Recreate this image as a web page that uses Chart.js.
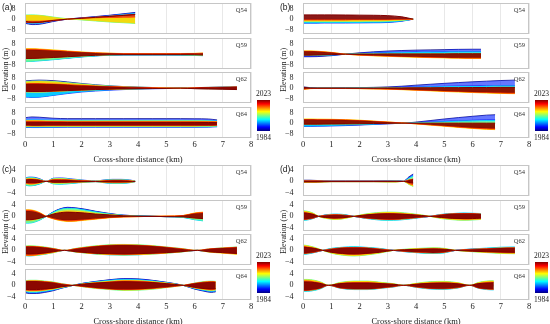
<!DOCTYPE html>
<html>
<head>
<meta charset="utf-8">
<script src="https://cdn.jsdelivr.net/npm/chart.js@4.4.0/dist/chart.umd.min.js"></script>
<style>
  body { margin: 0; background: #fff; width: 550px; height: 324px; position: relative; overflow: hidden; font-family: "Liberation Serif", serif; color: #222; }
  canvas { position: absolute; }
  .txt { position: absolute; white-space: nowrap; line-height: 10px; }
  .bar { position: absolute; background: linear-gradient(to top, rgb(0,0,128) 0%, rgb(0,0,255) 12.5%, rgb(0,255,255) 37.5%, rgb(255,255,0) 62.5%, rgb(255,0,0) 87.5%, rgb(128,0,0) 100%); }
</style>
</head>
<body>
<script>
// years shown as profile lines (colour = year on the jet scale 1984-2023)
const years = [1984, 1990, 1997, 2003, 2010, 2016, 2023];
const profiles = ["Q54", "Q59", "Q62", "Q64"];
const xTicks = [0, 1, 2, 3, 4, 5, 6, 7, 8];
const ticksAB = [-8, 0, 8];
const ticksCD = [-4, 0, 4];

// cross-shore distance (km) of the sampled points
const distQ54 = [0, 0.25, 0.5, 0.75, 1, 1.5, 2, 2.5, 3, 3.5, 3.9];
const distQ59 = [0, 0.25, 0.5, 1, 1.5, 2, 2.5, 3, 3.5, 4, 4.5, 5, 5.5, 6, 6.3];
const distQ62 = [0, 0.25, 0.5, 1, 1.5, 2, 2.5, 3, 3.5, 4, 4.5, 5, 5.5, 6, 6.5, 7, 7.5];
const distQ64 = [0, 0.25, 0.5, 1, 1.5, 2, 2.5, 3, 3.5, 4, 4.5, 5, 5.5, 6, 6.5, 6.8];
const distC54 = [0, 0.15, 0.35, 0.55, 0.75, 1.0, 1.3, 1.6, 1.9, 2.2, 2.5, 2.8, 3.1, 3.4, 3.7, 3.9];
const distC59 = [0, 0.15, 0.35, 0.55, 0.75, 1.0, 1.25, 1.5, 1.8, 2.1, 2.5, 3.0, 3.5, 4.0, 5.0, 5.6, 6.0, 6.3];
const distC62 = [0, 0.15, 0.4, 0.7, 1.0, 1.4, 1.8, 2.2, 2.6, 3.0, 3.5, 4.0, 4.5, 5.0, 5.5, 6.1, 6.5, 7.0, 7.5];
const distC64 = [0, 0.15, 0.4, 0.7, 1.0, 1.3, 1.7, 2.1, 2.5, 3.0, 3.5, 4.0, 4.5, 5.0, 5.6, 6.0, 6.3, 6.6, 6.75];
const distD54 = [0, 0.25, 0.5, 1.0, 1.5, 2.0, 2.5, 3.0, 3.3, 3.55, 3.75, 3.9];
const distD59 = [0, 0.15, 0.35, 0.55, 0.8, 1.1, 1.4, 1.8, 2.2, 2.6, 3.0, 3.4, 3.8, 4.2, 4.5, 4.9, 5.3, 5.7, 6.0, 6.3];
const distD62 = [0, 0.15, 0.4, 0.7, 1.0, 1.4, 1.8, 2.2, 2.7, 3.2, 3.6, 4.1, 4.6, 5.0, 5.4, 6.0, 6.5, 7.0, 7.5];
const distD64 = [0, 0.15, 0.4, 0.65, 0.9, 1.3, 1.8, 2.3, 2.8, 3.2, 3.55, 4.0, 4.5, 5.0, 5.5, 5.9, 6.2, 6.5, 6.75];

// elevation (m), one row per year
const elevA54 = [
  [-3.2, -4.2, -4.0, -3.0, -1.8, 0, 1.0, 2.0, 3.0, 4.2, 5.2],
  [-2.8, -3.6, -3.5, -2.6, -1.5, 0, 0.9, 1.8, 2.8, 3.9, 4.8],
  [-1.2, -1.5, -1.4, -1.0, -0.6, 0, 0.4, 0.8, 1.2, 1.6, 2.0],
  [3.2, 3.3, 3.0, 2.4, 1.6, 0.3, -0.6, -1.4, -2.2, -2.8, -3.3],
  [-1.2, -1.3, -1.2, -0.9, -0.5, 0, 0.4, 0.7, 0.9, 1.1, 1.3],
  [-2.2, -2.8, -2.6, -2.0, -1.2, 0, 0.8, 1.5, 2.3, 3.1, 3.8],
  [-1.8, -2.4, -2.3, -1.7, -1.0, 0, 0.7, 1.4, 2.1, 2.9, 3.5],
];
const elevA59 = [
  [-5.0, -5.0, -4.8, -4.0, -3.0, -2.0, -1.2, -0.7, -0.5, -0.5, -0.5, -0.5, -0.6, -0.8, -1.0],
  [-4.8, -4.8, -4.6, -3.8, -2.9, -1.9, -1.2, -0.7, -0.5, -0.5, -0.5, -0.5, -0.6, -0.8, -1.0],
  [-5.8, -5.6, -5.2, -4.3, -3.2, -2.2, -1.4, -0.8, -0.6, -0.6, -0.6, -0.6, -0.7, -1.0, -1.2],
  [-3.8, -3.8, -3.6, -3.0, -2.3, -1.6, -1.0, -0.6, -0.4, -0.4, -0.4, -0.4, -0.5, -0.7, -0.9],
  [4.2, 4.2, 4.0, 3.3, 2.5, 1.7, 1.1, 0.7, 0.5, 0.4, 0.4, 0.4, 0.5, 0.6, 0.8],
  [3.4, 3.4, 3.2, 2.7, 2.1, 1.4, 0.9, 0.6, 0.4, 0.4, 0.4, 0.4, 0.4, 0.5, 0.7],
  [-3.3, -3.3, -3.1, -2.6, -2.0, -1.4, -0.9, -0.5, -0.4, -0.4, -0.4, -0.4, -0.4, -0.5, -0.7],
];
const elevA62 = [
  [5.6, 6.0, 6.2, 5.8, 4.8, 3.6, 2.6, 1.8, 1.2, 0.8, 0.5, 0.3, 0, 0.3, 0.5, 0.7, 0.9],
  [-6.8, -7.2, -7.0, -5.6, -4.2, -3.0, -2.2, -1.6, -1.1, -0.8, -0.5, -0.3, 0, -0.3, -0.5, -0.7, -0.9],
  [-3.0, -3.2, -3.2, -2.7, -2.2, -1.7, -1.3, -1.0, -0.7, -0.5, -0.3, -0.2, 0, 0.4, 0.6, 0.9, 1.1],
  [5.0, 5.4, 5.5, 5.1, 4.2, 3.2, 2.3, 1.6, 1.1, 0.7, 0.5, 0.3, 0, 0.2, 0.3, 0.4, 0.5],
  [-2.8, -3.0, -3.0, -2.6, -2.1, -1.6, -1.2, -0.9, -0.7, -0.5, -0.3, -0.2, 0, -0.3, -0.5, -0.6, -0.8],
  [3.3, 3.5, 3.5, 3.2, 2.7, 2.1, 1.6, 1.2, 0.9, 0.6, 0.4, 0.2, 0, 0.4, 0.6, 0.8, 1.0],
  [-2.4, -2.6, -2.6, -2.3, -1.9, -1.5, -1.1, -0.8, -0.6, -0.4, -0.3, -0.2, 0, -0.4, -0.6, -0.8, -1.1],
];
const elevA64 = [
  [4.2, 4.8, 4.6, 3.8, 3.5, 3.5, 3.5, 3.5, 3.5, 3.5, 3.5, 3.5, 3.5, 3.4, 3.2, 2.5],
  [-3.3, -3.4, -3.4, -3.3, -3.2, -3.2, -3.2, -3.2, -3.2, -3.2, -3.2, -3.2, -3.2, -3.2, -3.1, -2.8],
  [2.3, 2.5, 2.4, 2.2, 2.1, 2.1, 2.1, 2.1, 2.1, 2.1, 2.1, 2.1, 2.1, 2.0, 1.9, 1.6],
  [-2.5, -2.6, -2.6, -2.5, -2.5, -2.5, -2.5, -2.5, -2.5, -2.5, -2.5, -2.5, -2.5, -2.5, -2.4, -2.2],
  [1.8, 1.9, 1.8, 1.6, 1.5, 1.5, 1.5, 1.5, 1.5, 1.5, 1.5, 1.5, 1.5, 1.5, 1.4, 1.2],
  [-1.9, -2.0, -2.0, -1.9, -1.9, -1.9, -1.9, -1.9, -1.9, -1.9, -1.9, -1.9, -1.9, -1.9, -1.8, -1.6],
  [0.7, 0.7, 0.7, 0.6, 0.6, 0.6, 0.6, 0.6, 0.6, 0.6, 0.6, 0.6, 0.6, 0.6, 0.5, 0.4],
];

const elevB54 = [
  [-2.5, -2.5, -2.5, -2.5, -2.5, -2.4, -2.4, -2.3, -2.1, -1.3, 0],
  [-3.1, -3.1, -3.1, -3.0, -3.0, -3.0, -2.9, -2.8, -2.6, -1.6, 0],
  [-2.2, -2.2, -2.2, -2.2, -2.2, -2.1, -2.1, -2.0, -1.8, -1.1, 0],
  [-1.9, -1.9, -1.9, -1.9, -1.9, -1.8, -1.8, -1.7, -1.5, -0.9, 0],
  [-1.0, -1.0, -1.0, -1.0, -1.0, -1.0, -0.9, -0.9, -0.8, -0.5, 0],
  [-0.2, -0.2, -0.2, -0.2, -0.2, -0.2, -0.2, -0.2, -0.2, -0.1, 0],
  [3.3, 3.3, 3.3, 3.3, 3.3, 3.2, 3.1, 3.0, 2.7, 1.8, 0],
];
const elevB59 = [
  [-2.0, -2.0, -1.9, -1.2, 0, 1.0, 1.8, 2.4, 2.8, 3.1, 3.3, 3.5, 3.7, 3.8, 3.8],
  [-1.5, -1.5, -1.4, -0.9, 0, 0.6, 1.0, 1.3, 1.5, 1.7, 1.8, 1.9, 2.0, 2.0, 2.0],
  [-1.0, -1.0, -0.9, -0.6, 0, 0.3, 0.5, 0.6, 0.7, 0.8, 0.9, 0.9, 1.0, 1.0, 1.0],
  [-0.6, -0.6, -0.5, -0.3, 0, 0.1, 0.2, 0.2, 0.2, 0.2, 0.3, 0.3, 0.3, 0.3, 0.3],
  [2.5, 2.5, 2.3, 1.4, 0, -0.8, -1.3, -1.7, -2.1, -2.4, -2.7, -2.9, -3.1, -3.3, -3.3],
  [2.2, 2.2, 2.0, 1.2, 0, -0.7, -1.1, -1.4, -1.8, -2.0, -2.3, -2.5, -2.7, -2.8, -2.8],
  [-0.8, -0.8, -0.7, -0.4, 0, 0.1, 0.1, 0.2, 0.2, 0.2, 0.2, 0.2, 0.3, 0.3, 0.3],
];
const elevB62 = [
  [1.0, 0.4, 0.2, 0.2, 0.3, 0.4, 0.6, 0.9, 1.5, 2.3, 3.0, 3.7, 4.3, 4.9, 5.4, 5.9, 6.2],
  [0.6, 0.2, 0.1, 0.1, 0.2, 0.3, 0.4, 0.6, 0.8, 1.0, 1.2, 1.4, 1.6, 1.7, 1.9, 2.0, 2.0],
  [0.3, 0.1, 0.1, 0.1, 0.1, 0.2, 0.2, 0.3, 0.4, 0.5, 0.6, 0.7, 0.8, 0.8, 0.9, 1.0, 1.0],
  [0, 0, 0, 0, 0.1, 0.1, 0.1, 0.2, 0.2, 0.3, 0.3, 0.3, 0.4, 0.4, 0.4, 0.5, 0.5],
  [-1.0, -0.4, -0.2, -0.2, -0.3, -0.4, -0.6, -0.8, -1.2, -1.6, -2.1, -2.6, -3.0, -3.4, -3.8, -4.1, -4.3],
  [-0.8, -0.3, -0.2, -0.2, -0.2, -0.3, -0.5, -0.7, -1.0, -1.4, -1.8, -2.2, -2.5, -2.9, -3.2, -3.4, -3.6],
  [0.6, 0.2, 0.1, 0.1, 0.1, 0.1, 0.1, 0.2, 0.2, 0.3, 0.3, 0.4, 0.4, 0.5, 0.5, 0.6, 0.6],
];
const elevB64 = [
  [-2.0, -2.0, -1.9, -1.8, -1.5, -1.2, -0.8, -0.4, -0.1, 0.8, 2.0, 3.2, 4.3, 5.3, 6.2, 6.5],
  [-2.5, -2.5, -2.4, -2.2, -1.9, -1.5, -1.0, -0.5, -0.1, 0.3, 0.8, 1.3, 1.8, 2.2, 2.5, 2.5],
  [-1.2, -1.2, -1.1, -1.0, -0.9, -0.7, -0.5, -0.3, -0.1, 0.2, 0.5, 0.8, 1.1, 1.3, 1.5, 1.5],
  [-0.8, -0.8, -0.8, -0.7, -0.6, -0.5, -0.3, -0.2, 0, 0, 0, 0, 0, 0, 0, 0],
  [3.2, 3.2, 3.1, 3.0, 2.7, 2.3, 1.6, 0.9, 0.2, -0.6, -1.5, -2.4, -3.3, -4.1, -4.8, -5.0],
  [2.8, 2.8, 2.7, 2.6, 2.4, 2.0, 1.4, 0.8, 0.2, -0.5, -1.3, -2.0, -2.8, -3.5, -4.0, -4.2],
  [-0.8, -0.8, -0.8, -0.7, -0.6, -0.5, -0.3, -0.2, 0, 0, 0, 0, 0, 0, 0, 0],
];

const elevC54 = [
  [-1.1, -1.4, -1.3, -0.7, 0, -0.7, -0.8, -0.6, -0.4, -0.2, -0.1, -0.4, -0.6, -0.6, -0.4, -0.1],
  [1.2, 1.5, 1.4, 0.8, 0, 1.1, 1.2, 0.9, 0.6, 0.3, 0.1, 0.5, 0.7, 0.7, 0.5, 0.1],
  [-1.3, -1.6, -1.4, -0.8, 0, -0.9, -1.0, -0.8, -0.5, -0.3, -0.1, -0.5, -0.7, -0.7, -0.5, -0.1],
  [1.0, 1.2, 1.1, 0.6, 0, 0.9, 1.0, 0.7, 0.5, 0.2, 0.1, 0.4, 0.5, 0.5, 0.4, 0.1],
  [-0.8, -1.0, -0.9, -0.5, 0, -0.6, -0.6, -0.5, -0.3, -0.2, -0.1, -0.3, -0.5, -0.5, -0.3, -0.1],
  [0.6, 0.8, 0.7, 0.4, 0, 0.6, 0.6, 0.5, 0.3, 0.2, 0, 0.2, 0.4, 0.4, 0.2, 0],
  [-0.4, -0.5, -0.5, -0.3, 0, -0.3, -0.3, -0.2, -0.2, -0.1, 0, -0.2, -0.2, -0.2, -0.2, 0],
];
const elevC59 = [
  [-1.5, -1.5, -1.3, -0.8, 0, 1.6, 2.7, 3.2, 3.0, 2.6, 1.8, 1.0, 0.4, 0.2, -0.1, -0.2, -0.8, -1.0],
  [-2.0, -2.0, -1.7, -1.0, 0, 1.5, 2.6, 3.0, 2.9, 2.4, 1.7, 0.9, 0.4, 0.2, -0.1, -0.3, -1.0, -1.3],
  [-2.4, -2.4, -2.0, -1.2, 0, 1.4, 2.4, 2.8, 2.7, 2.2, 1.5, 0.8, 0.3, 0.1, -0.1, -0.4, -1.2, -1.6],
  [-1.6, -1.6, -1.4, -0.8, 0, 1.1, 1.9, 2.2, 2.1, 1.8, 1.2, 0.7, 0.3, 0.1, -0.1, -0.2, -0.8, -1.0],
  [2.3, 2.3, 2.0, 1.2, 0, -0.9, -1.5, -1.8, -1.7, -1.4, -1.0, -0.5, -0.2, -0.1, 0.1, 0.3, 1.2, 1.5],
  [1.9, 1.9, 1.6, 1.0, 0, -0.7, -1.2, -1.4, -1.3, -1.1, -0.8, -0.4, -0.2, -0.1, 0.1, 0.3, 1.0, 1.2],
  [-1.2, -1.2, -1.0, -0.6, 0, 0.8, 1.3, 1.5, 1.4, 1.2, 0.8, 0.5, 0.2, 0.1, -0.1, -0.2, -0.6, -0.8],
];
const elevC62 = [
  [-1.0, -1.1, -1.0, -0.8, -0.5, 0, -0.4, -0.8, -1.0, -1.1, -1.2, -1.1, -1.0, -0.7, -0.4, 0, -0.4, -0.6, -0.8],
  [-1.3, -1.3, -1.2, -0.9, -0.6, 0, -0.5, -0.9, -1.2, -1.3, -1.4, -1.3, -1.1, -0.8, -0.5, 0, -0.4, -0.7, -1.0],
  [-1.9, -2.0, -1.8, -1.4, -0.8, 0, -0.6, -1.0, -1.4, -1.6, -1.7, -1.6, -1.3, -1.0, -0.6, 0, -0.5, -0.8, -1.1],
  [1.5, 1.6, 1.5, 1.2, 0.7, 0, 0.7, 1.3, 1.7, 2.0, 2.1, 2.0, 1.7, 1.2, 0.7, 0, 0.5, 0.9, 1.2],
  [-1.8, -1.9, -1.7, -1.3, -0.8, 0, -0.6, -1.0, -1.3, -1.5, -1.6, -1.5, -1.3, -1.0, -0.6, 0, -0.6, -1.0, -1.4],
  [1.3, 1.4, 1.3, 1.0, 0.6, 0, 0.6, 1.1, 1.5, 1.8, 1.9, 1.8, 1.5, 1.1, 0.6, 0, 0.5, 0.8, 1.1],
  [-1.2, -1.3, -1.2, -0.9, -0.5, 0, -0.5, -0.8, -1.1, -1.2, -1.3, -1.2, -1.0, -0.8, -0.5, 0, -0.5, -0.8, -1.1],
];
const elevC64 = [
  [-2.6, -2.9, -2.9, -2.5, -1.9, -1.0, 0, 0.8, 1.4, 2.0, 2.4, 2.3, 1.8, 1.1, 0, -1.3, -2.0, -2.5, -2.3],
  [-2.3, -2.6, -2.6, -2.2, -1.7, -0.9, 0, 0.8, 1.3, 1.9, 2.2, 2.1, 1.7, 1.0, 0, -1.2, -1.8, -2.2, -2.1],
  [-2.1, -2.3, -2.3, -2.0, -1.5, -0.8, 0, 0.7, 1.2, 1.7, 2.0, 1.9, 1.5, 0.9, 0, -1.0, -1.6, -2.0, -1.8],
  [1.6, 1.8, 1.8, 1.5, 1.2, 0.6, 0, -0.6, -1.1, -1.5, -1.8, -1.7, -1.4, -0.8, 0, 0.8, 1.3, 1.5, 1.4],
  [-1.8, -2.0, -2.0, -1.7, -1.3, -0.7, 0, 0.6, 1.0, 1.4, 1.7, 1.6, 1.3, 0.8, 0, -0.9, -1.4, -1.7, -1.6],
  [1.4, 1.5, 1.5, 1.3, 1.0, 0.5, 0, -0.5, -0.9, -1.3, -1.5, -1.4, -1.1, -0.7, 0, 0.7, 1.1, 1.3, 1.2],
  [-1.4, -1.5, -1.5, -1.3, -1.0, -0.5, 0, 0.5, 0.8, 1.1, 1.3, 1.2, 1.0, 0.6, 0, -0.7, -1.1, -1.3, -1.2],
];

const elevD54 = [
  [0.4, 0.4, 0.3, 0.1, 0.1, 0.1, 0.1, 0.2, 0.3, 0, 1.6, 2.6],
  [0.3, 0.3, 0.3, 0.1, 0.1, 0.1, 0.1, 0.2, 0.2, 0, 1.3, 2.2],
  [0.2, 0.2, 0.2, 0.1, 0.1, 0.1, 0.1, 0.1, 0.2, 0, 1.0, 1.6],
  [-0.4, -0.4, -0.3, -0.1, -0.1, -0.1, -0.1, -0.2, -0.2, 0, -1.1, -1.8],
  [-0.3, -0.3, -0.3, -0.1, -0.1, -0.1, -0.1, -0.2, -0.2, 0, -0.9, -1.4],
  [0.2, 0.2, 0.2, 0.1, 0.1, 0.1, 0.1, 0.1, 0.1, 0, 0.5, 0.8],
  [-0.2, -0.2, -0.2, -0.1, -0.1, -0.1, -0.1, -0.1, -0.1, 0, -0.4, -0.6],
];
const elevD59 = [
  [-0.9, -0.8, -0.5, 0, 0.4, 0.5, 0.5, 0, -0.5, -0.8, -0.9, -0.8, -0.6, -0.3, 0, 0.4, 0.7, 0.8, 0.8, 0.6],
  [-1.1, -1.0, -0.7, 0, 0.4, 0.6, 0.5, 0, -0.6, -0.9, -1.1, -1.0, -0.7, -0.3, 0, 0.6, 0.9, 1.0, 1.0, 0.8],
  [-1.4, -1.3, -0.8, 0, 0.5, 0.8, 0.7, 0, -0.7, -1.2, -1.4, -1.3, -0.9, -0.4, 0, 0.7, 1.0, 1.2, 1.1, 1.0],
  [2.0, 1.8, 1.2, 0, -0.7, -1.1, -0.9, 0, 0.8, 1.3, 1.5, 1.4, 1.0, 0.5, 0, -0.8, -1.2, -1.4, -1.3, -1.1],
  [1.6, 1.4, 1.0, 0, -0.6, -0.9, -0.8, 0, 0.6, 1.0, 1.2, 1.1, 0.8, 0.4, 0, -0.6, -0.9, -1.1, -1.0, -0.9],
  [-1.1, -1.0, -0.7, 0, 0.4, 0.6, 0.5, 0, -0.6, -0.9, -1.1, -1.0, -0.7, -0.3, 0, 0.6, 0.9, 1.0, 1.0, 0.8],
  [1.2, 1.1, 0.7, 0, -0.4, -0.6, -0.5, 0, 0.5, 0.8, 0.9, 0.8, 0.6, 0.3, 0, -0.4, -0.7, -0.8, -0.8, -0.6],
];
const elevD62 = [
  [-0.9, -0.8, -0.5, 0, 0.4, 0.7, 0.8, 0.7, 0.4, 0, -0.3, -0.5, -0.7, -0.5, 0, 0.3, 0.5, 0.6, 0.7],
  [-1.1, -1.0, -0.7, 0, 0.5, 0.9, 1.0, 0.9, 0.5, 0, -0.4, -0.7, -0.9, -0.7, 0, 0.4, 0.6, 0.8, 0.9],
  [-1.4, -1.3, -0.8, 0, 0.7, 1.1, 1.3, 1.1, 0.7, 0, -0.5, -0.9, -1.1, -0.9, 0, 0.5, 0.8, 1.1, 1.2],
  [1.9, 1.7, 1.1, 0, -1.0, -1.7, -2.0, -1.7, -1.0, 0, 0.4, 0.7, 0.9, 0.7, 0, -0.5, -0.8, -1.1, -1.2],
  [1.5, 1.4, 0.9, 0, -0.8, -1.4, -1.6, -1.4, -0.8, 0, 0.3, 0.5, 0.7, 0.5, 0, -0.4, -0.7, -0.9, -1.0],
  [-1.1, -1.0, -0.7, 0, 0.5, 0.9, 1.0, 0.9, 0.5, 0, -0.4, -0.7, -0.9, -0.7, 0, 0.4, 0.6, 0.8, 0.9],
  [1.1, 1.0, 0.7, 0, -0.7, -1.1, -1.3, -1.1, -0.7, 0, 0.2, 0.4, 0.5, 0.4, 0, -0.3, -0.5, -0.6, -0.7],
];
const elevD64 = [
  [0.3, 0.3, 0.3, 0.2, 0, 0.2, 0.2, 0.2, 0.2, 0.1, 0, 0.1, 0.2, 0.2, 0.1, 0, 0.2, 0.2, 0.2],
  [-0.3, -0.3, -0.3, -0.2, 0, -0.2, -0.2, -0.2, -0.2, -0.1, 0, -0.1, -0.2, -0.2, -0.1, 0, -0.2, -0.2, -0.2],
  [-2.1, -2.1, -1.8, -1.1, 0, -1.0, -1.5, -1.5, -1.0, -0.6, 0, -0.7, -1.3, -1.4, -0.9, 0, -1.0, -1.5, -1.6],
  [2.1, 2.1, 1.8, 1.1, 0, 1.0, 1.5, 1.5, 1.0, 0.6, 0, 0.7, 1.3, 1.4, 0.9, 0, 1.0, 1.5, 1.6],
  [1.7, 1.7, 1.4, 0.9, 0, 0.8, 1.2, 1.2, 0.8, 0.5, 0, 0.6, 1.0, 1.1, 0.8, 0, 0.8, 1.2, 1.3],
  [-1.8, -1.8, -1.5, -0.9, 0, -0.9, -1.3, -1.3, -0.9, -0.5, 0, -0.6, -1.1, -1.2, -0.8, 0, -0.9, -1.3, -1.4],
  [1.2, 1.2, 1.0, 0.6, 0, 0.6, 0.8, 0.8, 0.6, 0.4, 0, 0.4, 0.7, 0.8, 0.5, 0, 0.6, 0.8, 0.9],
];

const SERIF = '"Liberation Serif", "Times New Roman", serif';

function jet(t, a) {
  const c = v => Math.round(255 * Math.max(0, Math.min(1, v)));
  const r = c(1.5 - Math.abs(4 * t - 3));
  const g = c(1.5 - Math.abs(4 * t - 2));
  const b = c(1.5 - Math.abs(4 * t - 1));
  return `rgba(${r}, ${g}, ${b}, ${a})`;
}

function profileDatasets(dist, rows) {
  return rows.map((row, k) => {
    const t = (years[k] - 1984) / 39;
    return {
      label: String(years[k]),
      data: dist.map((x, i) => ({ x: x, y: row[i] })),
      borderColor: jet(t, t < 0.3 ? 0.8 : 1),
      backgroundColor: jet(t, t < 0.3 ? 0.6 : 0.9),
      borderWidth: 1,
      pointRadius: 0,
      cubicInterpolationMode: "monotone",
      fill: k === 0 ? false : k - 1,
      order: rows.length - 1 - k,
    };
  });
}

// frame round each sub-plot plus the profile name in the corner
const framePlugin = {
  id: "frame",
  afterDatasetsDraw(chart, args, opts) {
    const { ctx, chartArea: a } = chart;
    ctx.save();
    ctx.strokeStyle = "#c6c6c6";
    ctx.lineWidth = 1;
    ctx.strokeRect(a.left + 0.5, a.top + 0.5, a.right - a.left - 1, a.bottom - a.top - 1);
    ctx.fillStyle = "#333";
    ctx.font = "6.5px " + SERIF;
    ctx.textAlign = "right";
    ctx.textBaseline = "top";
    ctx.fillText(opts.label, a.right - 4, a.top + 4);
    ctx.restore();
  },
};

const panels = [
  { tag: "(a)", left: 25, top: 3, yMin: -11.5, yMax: 12.5, yTicks: ticksAB,
    dist: [distQ54, distQ59, distQ62, distQ64], elev: [elevA54, elevA59, elevA62, elevA64] },
  { tag: "(b)", left: 303, top: 3, yMin: -11.5, yMax: 12.5, yTicks: ticksAB,
    dist: [distQ54, distQ59, distQ62, distQ64], elev: [elevB54, elevB59, elevB62, elevB64] },
  { tag: "(c)", left: 25, top: 165, yMin: -5.2, yMax: 5.8, yTicks: ticksCD,
    dist: [distC54, distC59, distC62, distC64], elev: [elevC54, elevC59, elevC62, elevC64] },
  { tag: "(d)", left: 303, top: 165, yMin: -5.2, yMax: 5.8, yTicks: ticksCD,
    dist: [distD54, distD59, distD62, distD64], elev: [elevD54, elevD59, elevD62, elevD64] },
];

const plotW = 226, subH = 31, step = 34.6, axisW = 22, padR = 5, xAxisH = 27;

function addText(text, css) {
  const d = document.createElement("div");
  d.className = "txt";
  d.textContent = text;
  Object.assign(d.style, css);
  document.body.appendChild(d);
  return d;
}

panels.forEach(p => {
  for (let i = 0; i < 4; i++) {
    const bottom = i === 3;
    const top = Math.round(p.top + i * step);
    const w = axisW + plotW + padR;
    const h = subH + (bottom ? xAxisH : 0);
    const cv = document.createElement("canvas");
    cv.width = w; cv.height = h;
    cv.style.left = (p.left - axisW) + "px";
    cv.style.top = top + "px";
    cv.style.width = w + "px";
    cv.style.height = h + "px";
    document.body.appendChild(cv);

    new Chart(cv, {
      type: "line",
      data: { datasets: profileDatasets(p.dist[i], p.elev[i]) },
      options: {
        responsive: false,
        maintainAspectRatio: false,
        animation: false,
        devicePixelRatio: 1,
        layout: { autoPadding: false, padding: { left: 0, right: padR, top: 0, bottom: 0 } },
        plugins: {
          legend: { display: false },
          tooltip: { enabled: false },
          frame: { label: profiles[i] },
        },
        scales: {
          x: {
            type: "linear", min: 0, max: 8,
            afterBuildTicks: s => { s.ticks = xTicks.map(v => ({ value: v })); },
            afterFit: s => { s.height = bottom ? xAxisH : 0; s.paddingLeft = 0; s.paddingRight = 0; },
            ticks: { display: bottom, autoSkip: false, font: { family: SERIF, size: 8.5 }, color: "#222", padding: 2, maxRotation: 0 },
            grid: { color: "#e8e8e8", drawTicks: false },
            border: { display: false },
            title: { display: bottom, text: "Cross-shore distance (km)", font: { family: SERIF, size: 8.5 }, color: "#222", padding: 0 },
          },
          y: {
            min: p.yMin, max: p.yMax,
            afterFit: s => { s.width = axisW; s.paddingTop = 0; s.paddingBottom = 0; },
            afterBuildTicks: s => { s.ticks = p.yTicks.map(v => ({ value: v })); },
            ticks: { autoSkip: false, font: { family: SERIF, size: 8 }, color: "#222", padding: 1.5,
                     callback: v => (v < 0 ? "\u2212" + Math.abs(v) : String(v)) },
            grid: { display: false },
            border: { display: false },
          },
        },
      },
      plugins: [framePlugin],
    });
  }

  // panel letter
  addText(p.tag, { left: (p.left - 23) + "px", top: (p.top - 1) + "px", fontFamily: '"Liberation Sans", Arial, sans-serif', fontSize: "8.5px" });

  // y axis title, rotated
  const midY = p.top + (3 * step + subH) / 2;
  addText("Elevation (m)", { left: (p.left - 79) + "px", top: (midY - 5) + "px", width: "120px", textAlign: "center",
    fontSize: "8px", transform: "rotate(-90deg)" });

  // colour bar
  const barX = p.left + plotW + 6, barTop = p.top + 97;
  const bar = document.createElement("div");
  bar.className = "bar";
  Object.assign(bar.style, { left: barX + "px", top: barTop + "px", width: "13px", height: "31px" });
  document.body.appendChild(bar);
  addText(String(years[years.length - 1]), { left: (barX - 6) + "px", top: (barTop - 11) + "px", width: "25px", textAlign: "center", fontSize: "7.5px" });
  addText(String(years[0]), { left: (barX - 6) + "px", top: (barTop + 33) + "px", width: "25px", textAlign: "center", fontSize: "7.5px" });
});
</script>
</body>
</html>
